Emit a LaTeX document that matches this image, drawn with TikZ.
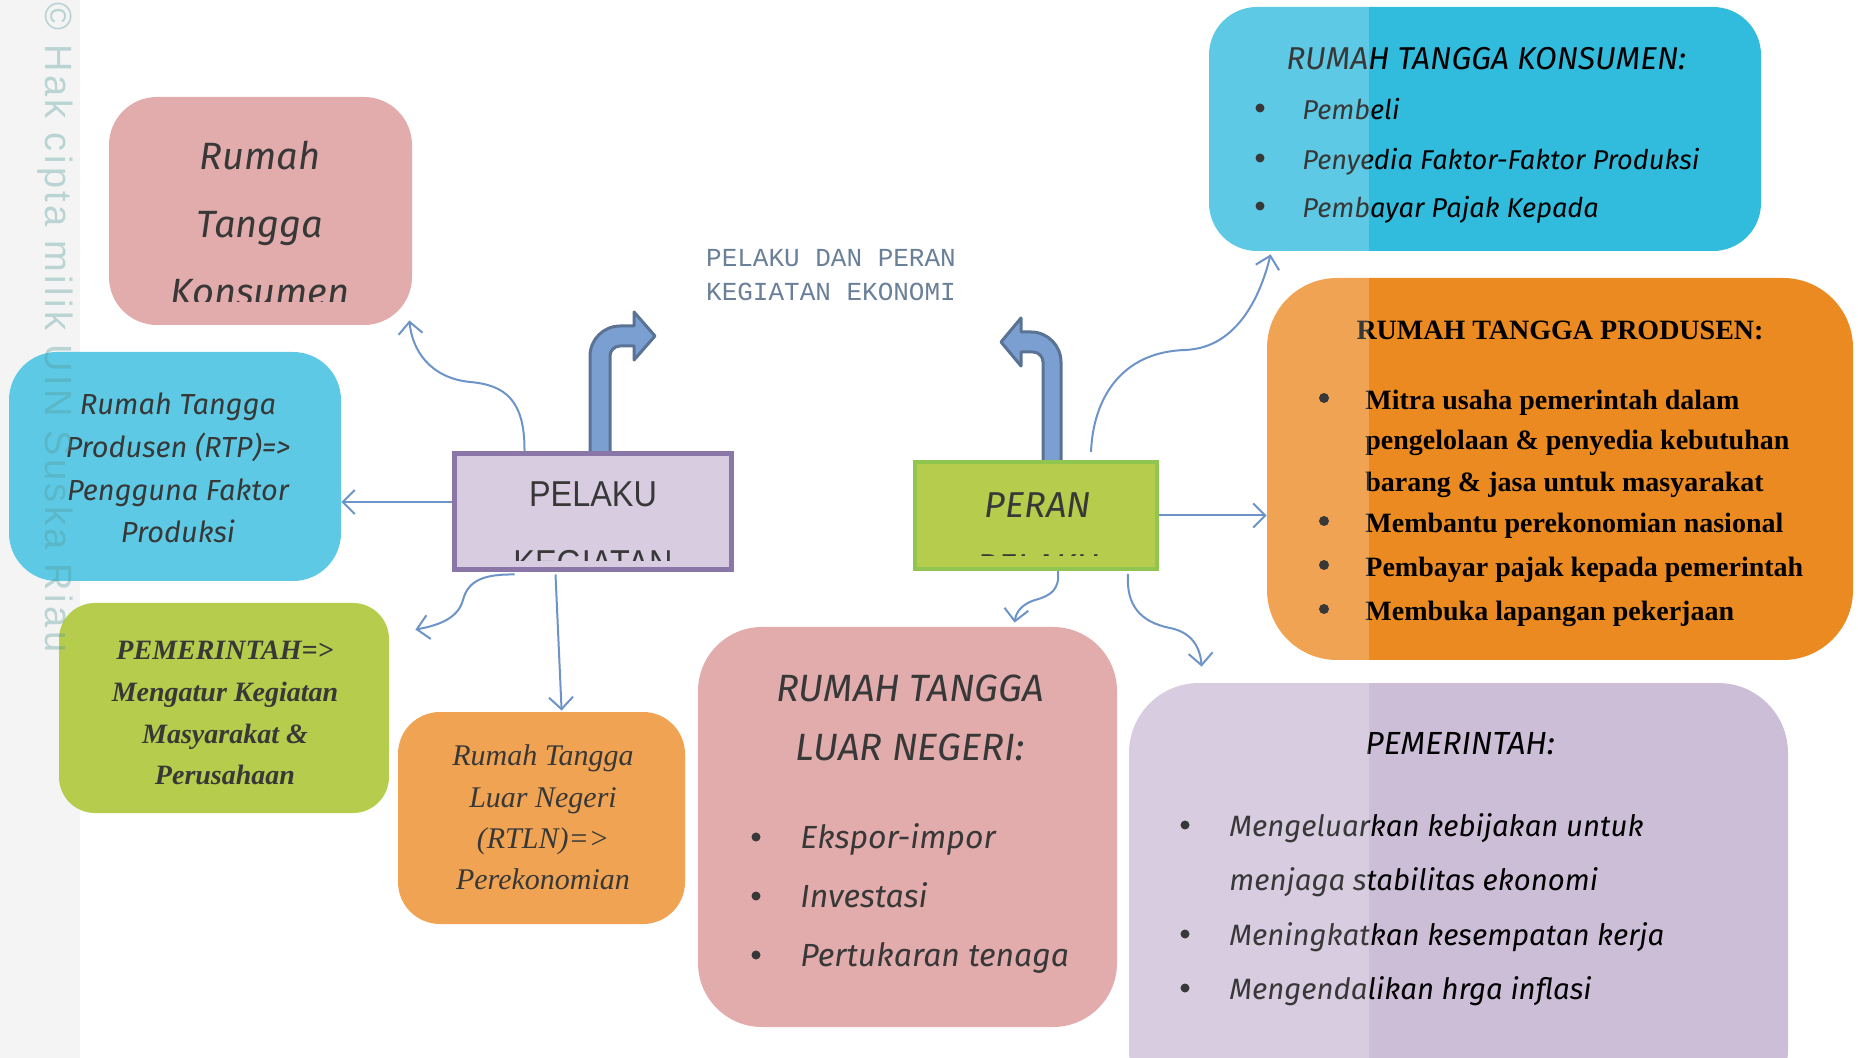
\documentclass[tikz,border=0pt]{standalone}
\usepackage{fontspec}
\usepackage{tikz}
\usetikzlibrary{arrows.meta,calc,fit}
\setmainfont{Liberation Serif}
\newfontfamily\handfont{Fira Sans}
\newfontfamily\headfont[FakeStretch=0.9]{Liberation Sans}
\newfontfamily\typefont{Liberation Mono}
\newfontfamily\markfont[LetterSpace=9]{Liberation Sans}
\definecolor{pinkc}{HTML}{DA9595}
\definecolor{cyanc}{HTML}{31BBDD}
\definecolor{greenc}{HTML}{A2BE1A}
\definecolor{greenline}{HTML}{72B51E}
\definecolor{orangec}{HTML}{EC8A22}
\definecolor{lavc}{HTML}{CDBED8}
\definecolor{purplec}{HTML}{6A5290}
\definecolor{linkc}{HTML}{4576B9}
\definecolor{bentc}{HTML}{5584C3}
\definecolor{bentline}{HTML}{2C4C76}
\definecolor{titlec}{HTML}{415B7C}
\definecolor{markc}{HTML}{509696}

\begin{document}
\begin{tikzpicture}[x=0.5pt,y=-0.5pt]
\tikzstyle{card}=[inner sep=0pt, rounded corners=24pt]
\tikzstyle{txt}=[inner sep=0pt, text height=1.5ex, text depth=.25ex, yshift=-3pt]
\tikzstyle{dot}=[circle, fill=black, inner sep=0pt, minimum size=4.5pt]
\tikzstyle{link}=[draw=linkc, line width=1pt, -{Straight Barb[length=6pt,width=12pt,line width=1pt]}]
\tikzstyle{bent}=[fill=bentc, draw=bentline, line width=1.5pt, line join=round]

\useasboundingbox (0,0) rectangle (1858,1058);
\fill[black!5] (0,0) rectangle (80,1058);

\draw[bent] (590,454) -- (590,356) .. controls (590,339.5) and (603.5,326) .. (620,326) -- (634,326) -- (634,312) -- (655,336) -- (634,360) -- (634,346) -- (620,346) .. controls (614.5,346) and (610,350.5) .. (610,356) -- (610,454) -- cycle;
\draw[bent] (1061,462) -- (1061,362) .. controls (1061,345.5) and (1047.5,332) .. (1031,332) -- (1021,332) -- (1021,318) -- (1001,342) -- (1021,366) -- (1021,352) -- (1033,352) .. controls (1038.5,352) and (1043,356.5) .. (1043,362) -- (1043,462) -- cycle;

\node[card, fill=pinkc, fit={(109,97) (412,325)}] (rtk) {};
\begin{scope}
\clip (109,97) rectangle (412,302);
\foreach \t [count=\i] in {Rumah, Tangga, Konsumen}
  \node[txt, font=\handfont\itshape\fontsize{19}{19}\selectfont] (rtk-\i) at (260,90+68*\i) {\t};
\end{scope}

\node[card, fill=cyanc, fit={(9,352) (341,581)}] (rtp) {};
\foreach \t [count=\i] in {Rumah Tangga, Produsen (RTP)=>, Pengguna Faktor, Produksi}
  \node[txt, font=\handfont\itshape\fontsize{14.5}{15}\selectfont] (rtp-\i) at (178,360.3+42.7*\i) {\t};

\node[card, rounded corners=18pt, fill=greenc, fit={(59,603) (389,813)}] (gov) {};
\foreach \t [count=\i] in {PEMERINTAH=>, Mengatur Kegiatan, Masyarakat \&, Perusahaan}
  \node[txt, font=\bfseries\itshape\fontsize{14}{15}\selectfont] (gov-\i) at (225,606.3+41.7*\i) {\t};

\node[card, rounded corners=21pt, fill=orangec, fit={(398,712) (685,924)}] (rtln) {};
\foreach \t [count=\i] in {Rumah Tangga, Luar Negeri, (RTLN)=>, Perekonomian}
  \node[txt, font=\itshape\fontsize{15}{16}\selectfont] (rtln-\i) at (543,712.7+41.3*\i) {\t};

\node[fill=lavc, draw=purplec, line width=2.5pt, inner sep=0pt, fit={(454,454) (731,570)}] (pelaku) {};
\node[txt, font=\headfont\fontsize{18}{18}\selectfont] (pelaku-1) at (593,495) {PELAKU};
\begin{scope}
\clip (456,456) rectangle (729,561);
\node[txt, font=\headfont\fontsize{18}{18}\selectfont] (pelaku-2) at (593,564) {KEGIATAN};
\end{scope}

\node[fill=greenc, draw=greenline, line width=2pt, inner sep=0pt, fit={(915,462) (1157,569)}] (peran) {};
\node[txt, font=\handfont\itshape\fontsize{18}{18}\selectfont] (peran-1) at (1038,506) {PERAN};
\begin{scope}
\clip (917,464) rectangle (1155,556);
\node[txt, font=\handfont\itshape\fontsize{18}{18}\selectfont] (peran-2) at (1038,568) {PELAKU};
\end{scope}

\node[align=center, text=titlec, font=\typefont\fontsize{13}{17}\selectfont] (title) at (831,275) {PELAKU DAN PERAN\\KEGIATAN EKONOMI};

\node[card, fill=cyanc, fit={(1209,7) (1761,251)}] (rtkon) {};
\node[txt, anchor=west, font=\handfont\itshape\fontsize{15.8}{16}\selectfont] (rtkon-0) at (1286,58) {RUMAH TANGGA KONSUMEN:};
\foreach \y/\t [count=\i] in {108/Pembeli, 158/Penyedia Faktor-Faktor Produksi, 206/Pembayar Pajak Kepada} {
  \node[dot] (rtkon-b\i) at (1260,\y) {};
  \node[txt, anchor=west, font=\handfont\itshape\fontsize{13.6}{14}\selectfont] (rtkon-\i) at (1302,\y) {\t};
}

\node[card, rounded corners=35pt, fill=orangec, fit={(1267,278) (1853,660)}] (rtprod) {};
\node[txt, font=\bfseries\fontsize{14}{15}\selectfont] (rtprod-0) at (1560,328) {RUMAH TANGGA PRODUSEN:};
\foreach \y/\t [count=\i] in {398/Mitra usaha pemerintah dalam, 438/pengelolaan \& penyedia kebutuhan, 480/barang \& jasa untuk masyarakat, 521/Membantu perekonomian nasional, 565/Pembayar pajak kepada pemerintah, 609/Membuka lapangan pekerjaan}
  \node[txt, anchor=west, font=\bfseries\fontsize{14}{15}\selectfont] (rtprod-\i) at (1365,\y) {\t};
\foreach \y [count=\i] in {398,521,565,609}
  \node[dot, minimum size=5pt] (rtprod-b\i) at (1324,\y) {};

\node[card, rounded corners=32pt, fill=pinkc, fit={(698,627) (1117,1027)}] (rtln2) {};
\node[txt, font=\handfont\itshape\fontsize{19}{19}\selectfont] (rtln2-0) at (910,690) {RUMAH TANGGA};
\node[txt, font=\handfont\itshape\fontsize{19}{19}\selectfont] (rtln2-00) at (910,749) {LUAR NEGERI:};
\foreach \y/\t [count=\i] in {837/Ekspor-impor, 896/Investasi, 955/Pertukaran tenaga} {
  \node[dot] (rtln2-b\i) at (756,\y) {};
  \node[txt, anchor=west, font=\handfont\itshape\fontsize{16}{17}\selectfont] (rtln2-\i) at (800,\y) {\t};
}

\node[card, rounded corners=35pt, fill=lavc, fit={(1129,683) (1788,1120)}] (govrole) {};
\node[txt, font=\handfont\itshape\fontsize{16}{17}\selectfont] (govrole-0) at (1460,743) {PEMERINTAH:};
\foreach \y/\t [count=\i] in {825/Mengeluarkan kebijakan untuk, 879/menjaga stabilitas ekonomi, 934/Meningkatkan kesempatan kerja, 988/Mengendalikan hrga inflasi}
  \node[txt, anchor=west, font=\handfont\itshape\fontsize{14.7}{16}\selectfont] (govrole-\i) at (1229,\y) {\t};
\foreach \y [count=\i] in {825,934,988}
  \node[dot] (govrole-b\i) at (1185,\y) {};

\coordinate (pl) at ($(pelaku.west)+(0,-10)$);
\draw[link] ($(pelaku.north west)+(73,0)$) .. controls (525,400) and (505,385) .. (470,382) .. controls (430,378) and (412,350) .. ($(rtk.south east)+(-3,-5)$);
\draw[link] (pl) -- (pl -| rtp.east);
\draw[link] ($(pelaku.south west)+(63,2)$) .. controls (485,574) and (468,580) .. (463,600) .. controls (458,618) and (440,625) .. ($(gov.north east)+(26,27)$);
\draw[link] ($(pelaku.south west)+(104,2)$) -- ($(rtln.north west)+(164,-1)$);
\draw[link] ($(peran.south west)+(145,0)$) .. controls (1060,590) and (1050,596) .. (1035,600) .. controls (1022,604) and (1016,612) .. ($(rtln2.north west)+(317,-4)$);
\draw[link] ($(peran.south east)+(-31,3)$) .. controls (1126,605) and (1140,622) .. (1170,628) .. controls (1190,632) and (1200,645) .. ($(govrole.north west)+(73,-16)$);
\draw[link] (peran.east) -- (peran.east -| rtprod.west);
\draw[link] ($(peran.north west)+(178,-8)$) .. controls (1093,400) and (1120,352) .. (1185,350) .. controls (1240,348) and (1262,290) .. ($(rtkon.south west)+(62,3)$);

\fill[white, opacity=0.22] (0,0) rectangle (1369,1058);
\node[rotate=-90, anchor=west, inner sep=0pt, text=markc, text opacity=0.35, font=\markfont\fontsize{19}{19}\selectfont] (mark) at (55,2) {© Hak cipta milik UIN Suska Riau};
\end{tikzpicture}
\end{document}
